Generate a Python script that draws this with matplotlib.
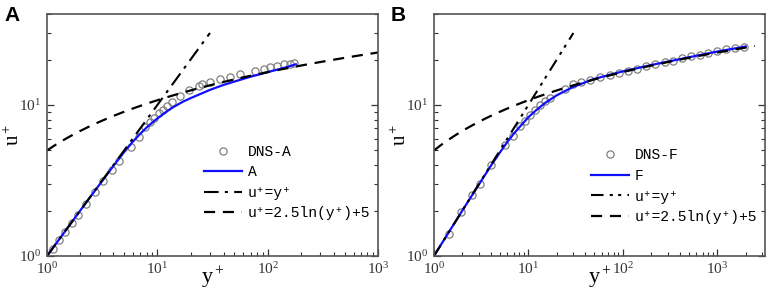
import numpy as np
import matplotlib
matplotlib.use('Agg')
import matplotlib.pyplot as plt
from matplotlib.ticker import LogLocator, NullFormatter

plt.rcParams['font.family'] = ['Liberation Serif', 'DejaVu Serif']
plt.rcParams['mathtext.fontset'] = 'custom'
plt.rcParams['mathtext.rm'] = 'Liberation Serif'
plt.rcParams['mathtext.it'] = 'Liberation Serif:italic'

# panel A : DNS points (y+, u+)
dnsA_y = [1.13, 1.29, 1.46, 1.68, 1.89, 2.26, 2.73, 3.25, 3.87, 4.52, 5.77, 6.76,
          7.78, 8.63, 9.39, 10.3, 11.2, 12.2, 13.6, 16.0, 19.3, 23.8, 25.5, 30.3,
          36.9, 45.5, 56.0, 76.0, 92.6, 106, 122, 140, 160, 173]
dnsA_u = [1.12, 1.28, 1.45, 1.66, 1.86, 2.21, 2.65, 3.13, 3.70, 4.25, 5.30, 6.10,
          7.10, 7.66, 8.19, 8.84, 9.30, 9.90, 10.5, 11.5, 12.5, 13.4, 13.7, 14.2,
          14.8, 15.4, 16.1, 16.8, 17.4, 17.8, 18.1, 18.6, 18.7, 19.0]
# panel A : model curve
modA_y = [1, 2, 3, 4, 5, 6, 7, 8, 9, 10, 12, 14, 17, 20, 25, 30, 40, 50, 70, 100, 140, 180]
modA_u = [1, 2, 2.98, 3.95, 4.88, 5.72, 6.45, 7.1, 7.65, 8.15, 9.0, 9.7, 10.5, 11.1,
          11.9, 12.6, 13.6, 14.3, 15.4, 16.5, 17.6, 18.6]

# panel B : DNS points
dnsF_y = [1.45, 1.93, 2.54, 3.07, 4.01, 5.63, 6.8, 8.13, 9.18, 10.4, 11.7, 13.2, 15.0,
          16.9, 24.3, 29.8, 36.5, 45.5, 57, 72.8, 90.7, 114, 140, 175, 218, 278, 340,
          428, 525, 653, 800, 995, 1230, 1530, 1920]
dnsF_u = [1.40, 1.95, 2.52, 3.02, 4.0, 5.44, 6.24, 7.21, 7.86, 8.58, 9.26, 10.0, 10.6,
          11.2, 12.8, 13.7, 14.2, 14.7, 15.3, 15.9, 16.3, 16.9, 17.4, 18.1, 18.8, 19.2,
          19.7, 20.5, 21.1, 21.6, 22.2, 22.8, 23.4, 24.0, 24.3]
modF_y = [1, 2, 3, 4, 5, 6, 7, 8, 9, 10, 12, 15, 20, 30, 50, 100, 200, 500, 1000, 2000]
modF_u = [1, 2, 2.98, 3.95, 4.85, 5.7, 6.45, 7.1, 7.7, 8.3, 9.2, 10.3, 11.6, 13.2,
          14.9, 16.7, 18.4, 20.7, 22.6, 24.4]

# laws
lin_y = np.array([1, 30])
logA_y = np.logspace(0, 3, 50)
logF_y = np.logspace(0, np.log10(2500), 50)

fig = plt.figure(figsize=(7.68, 3.02), dpi=100)
axA = fig.add_axes([0.0612, 0.1523, 0.431, 0.801])
axB = fig.add_axes([0.565, 0.1523, 0.431, 0.801])

def style(ax, xmax):
    ax.set_xscale('log')
    ax.set_yscale('log')
    ax.set_xlim(1, xmax)
    ax.set_ylim(1, 40)
    ax.xaxis.set_minor_locator(LogLocator(base=10, subs=np.arange(2, 10)))
    ax.yaxis.set_minor_locator(LogLocator(base=10, subs=np.arange(2, 10)))
    ax.xaxis.set_minor_formatter(NullFormatter())
    ax.yaxis.set_minor_formatter(NullFormatter())
    ax.tick_params(which='both', direction='in', right=True, top=False,
                   labelsize=11, colors='#333333', pad=4)
    ax.tick_params(which='major', length=5, width=0.9)
    ax.tick_params(which='minor', length=3, width=0.8)
    for s in ax.spines.values():
        s.set_color('#555555')
        s.set_linewidth(1.2)
    ax.set_xlabel(r'$\mathregular{y^+}$', fontsize=16)
    ax.set_ylabel(r'$\mathregular{u^+}$', fontsize=15)
    ax.xaxis.set_label_coords(0.5, -0.035)
    ax.yaxis.set_label_coords(-0.068, 0.5)

legfont = {'family': ['Liberation Mono', 'DejaVu Sans Mono'], 'size': 10.5}

# Panel A
axA.plot(dnsA_y, dnsA_u, 'o', mfc='none', mec='#808080', ms=5.2, mew=0.9, label='DNS-A')
axA.plot(modA_y, modA_u, '-', color='#1010ff', lw=1.6, label='A')
axA.plot(lin_y, lin_y, color='black', lw=1.5, dashes=[7, 3, 1.5, 3], label='u\u207a=y\u207a')
axA.plot(logA_y, 2.5 * np.log(logA_y) + 5, color='black', lw=1.6, dashes=[5, 3.5],
         label='u\u207a=2.5ln(y\u207a)+5')
style(axA, 1000)
axA.legend(loc='upper left', bbox_to_anchor=(0.452, 0.49), frameon=False, prop=legfont,
           handlelength=2.6, handletextpad=0.4, labelspacing=0.45, borderpad=0)
fig.text(0.006, 0.93, 'A', fontsize=15, fontweight='bold', family='Liberation Sans')

# Panel B
axB.plot(dnsF_y, dnsF_u, 'o', mfc='none', mec='#808080', ms=5.2, mew=0.9, label='DNS-F')
axB.plot(modF_y, modF_u, '-', color='#1010ff', lw=1.6, label='F')
axB.plot(lin_y, lin_y, color='black', lw=1.5, dashes=[6, 3, 1.5, 2.5, 1.5, 3], label='u\u207a=y\u207a')
axB.plot(logF_y, 2.5 * np.log(logF_y) + 5, color='black', lw=1.6, dashes=[5, 3.5],
         label='u\u207a=2.5ln(y\u207a)+5')
style(axB, 3200)
axB.legend(loc='upper left', bbox_to_anchor=(0.453, 0.475), frameon=False, prop=legfont,
           handlelength=2.6, handletextpad=0.4, labelspacing=0.45, borderpad=0)
fig.text(0.508, 0.93, 'B', fontsize=15, fontweight='bold', family='Liberation Sans')

fig.savefig('out.png', dpi=100)
